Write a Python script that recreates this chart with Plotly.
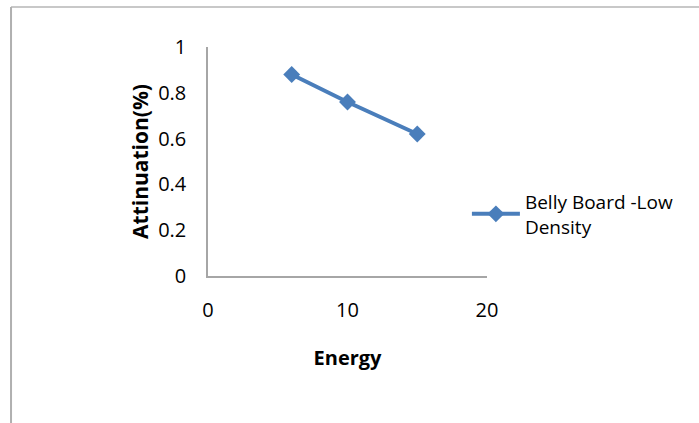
import plotly.graph_objects as go

# Attenuation measured at three beam energies
energy = [6, 10, 15]
attenuation = [0.88, 0.76, 0.62]
series_name = "Belly Board -Low<br>Density"

x_ticks = [0, 10, 20]
y_ticks = [0, 0.2, 0.4, 0.6, 0.8, 1]

blue = "#4a7ebb"
axis_grey = "#a6a6a6"
font_family = "Open Sans, Liberation Sans, sans-serif"

fig = go.Figure()
fig.add_trace(go.Scatter(
    x=energy, y=attenuation, mode="lines+markers", name=series_name,
    line=dict(color=blue, width=4),
    marker=dict(symbol="diamond", size=13, color=blue),
))

fig.update_layout(
    width=699, height=423,
    margin=dict(l=208, r=212, t=47, b=147),
    paper_bgcolor="white", plot_bgcolor="white",
    font=dict(family=font_family, color="#000000", size=20),
    showlegend=True,
    legend=dict(x=0.928, xanchor="left", y=0.27, yanchor="middle",
                font=dict(size=19), itemwidth=48, bgcolor="rgba(0,0,0,0)"),
    xaxis=dict(
        range=[0, 20], tickvals=x_ticks, ticks="", showgrid=False, zeroline=False,
        showline=True, linecolor=axis_grey, linewidth=1.5,
        ticklabelstandoff=15,
        title=dict(text="<b>Energy</b>", font=dict(size=20), standoff=29),
    ),
    yaxis=dict(
        range=[0, 1], tickvals=y_ticks, ticks="", showgrid=False, zeroline=False,
        showline=True, linecolor=axis_grey, linewidth=1.5,
        ticklabelstandoff=16,
        title=dict(text="<b>Attinuation(%)</b>", font=dict(size=21), standoff=4),
    ),
    shapes=[
        # chart frame (top and left edges)
        dict(type="line", xref="paper", yref="paper", x0=-0.706, x1=1.8,
             y0=1.175, y1=1.175, line=dict(color="#c8c8c8", width=2)),
        dict(type="line", xref="paper", yref="paper", x0=-0.706, x1=-0.706,
             y0=1.175, y1=-0.7, line=dict(color="#b0b0b0", width=2)),
    ],
)

fig.write_html("out.html")
